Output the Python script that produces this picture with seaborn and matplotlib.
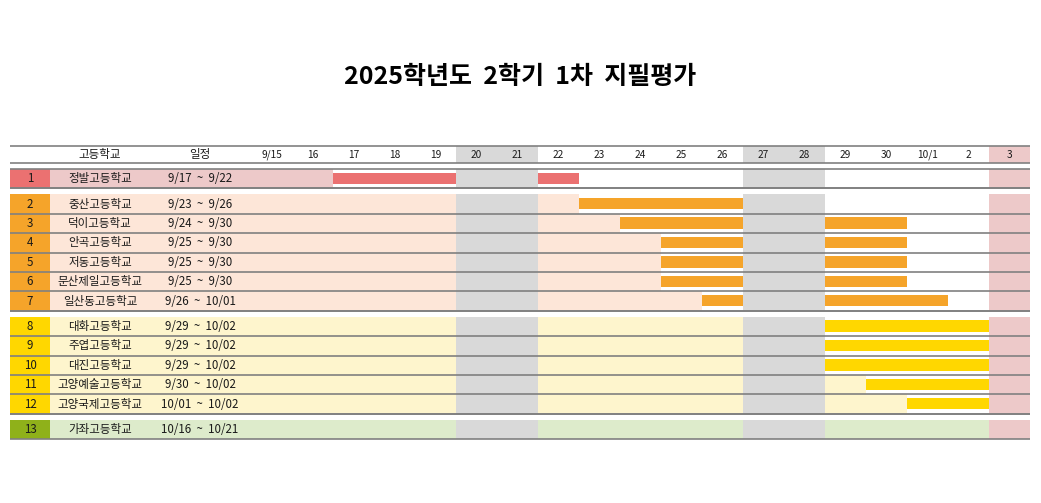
import numpy as np
import pandas as pd
import matplotlib
matplotlib.use("Agg")
import matplotlib.pyplot as plt
import seaborn as sns

# ---------------- data ----------------
title = "2025학년도  2학기  1차  지필평가"
row_numbers = list(range(1, 14))
schools = ["정발고등학교", "중산고등학교", "덕이고등학교", "안곡고등학교", "저동고등학교",
           "문산제일고등학교", "일산동고등학교", "대화고등학교", "주엽고등학교", "대진고등학교",
           "고양예술고등학교", "고양국제고등학교", "가좌고등학교"]
start_dates = ["2025-09-17", "2025-09-23", "2025-09-24", "2025-09-25", "2025-09-25",
               "2025-09-25", "2025-09-26", "2025-09-29", "2025-09-29", "2025-09-29",
               "2025-09-30", "2025-10-01", "2025-10-16"]
end_dates = ["2025-09-22", "2025-09-26", "2025-09-30", "2025-09-30", "2025-09-30",
             "2025-09-30", "2025-10-01", "2025-10-02", "2025-10-02", "2025-10-02",
             "2025-10-02", "2025-10-02", "2025-10-21"]
schedule_labels = ["9/17  ~  9/22", "9/23  ~  9/26", "9/24  ~  9/30", "9/25  ~  9/30",
                   "9/25  ~  9/30", "9/25  ~  9/30", "9/26  ~  10/01", "9/29  ~  10/02",
                   "9/29  ~  10/02", "9/29  ~  10/02", "9/30  ~  10/02", "10/01  ~  10/02",
                   "10/16  ~  10/21"]
groups = [0, 1, 1, 1, 1, 1, 1, 2, 2, 2, 2, 2, 3]
header_labels = ["고등학교", "일정"]
day_labels = ["9/15", "16", "17", "18", "19", "20", "21", "22", "23", "24", "25", "26",
              "27", "28", "29", "30", "10/1", "2", "3"]
calendar_start = "2025-09-15"
weekend_days = ["2025-09-20", "2025-09-21", "2025-09-27", "2025-09-28"]
holidays = ["2025-10-03"]

# ---------------- styles ----------------
group_dark = ["#EB7171", "#F5A42A", "#FFD700", "#8FB11A"]
group_light = ["#EDC9C9", "#FDE6D8", "#FEF5CD", "#DDEBCB"]
weekend_color = "#D9D9D9"
holiday_color = "#EDC9C9"
line_color = "#808080"
text_color = "#1A1A1A"
body_fs = 8.3

sns.set_theme(style="white")
plt.rcParams["font.family"] = ["Noto Sans CJK KR", "DejaVu Sans"]

W, H = 1041, 503
fig = plt.figure(figsize=(W / 100, H / 100), dpi=100)
ax = fig.add_axes([0, 0, 1, 1])

# x scale: one unit = one calendar day column (41 px), 0 = 9/15 column left edge
day_px, day0_px = 41.0, 251.0
ax.set_xlim((0 - day0_px) / day_px, (W - day0_px) / day_px)
ax.set_ylim(H, 0)
ax.axis("off")

n_days = len(day_labels)
x_left = (10 - day0_px) / day_px        # table left edge
x_name = (50 - day0_px) / day_px        # end of number column
x_name_c = (100 - day0_px) / day_px
x_date_c = (200 - day0_px) / day_px
x_num_c = (30 - day0_px) / day_px
x_right = n_days

base = pd.Timestamp(calendar_start)
day_idx = lambda d: (pd.Timestamp(d) - base).days
off_days = {day_idx(d) for d in weekend_days}
hol_days = {day_idx(d) for d in holidays}

# vertical layout (pixels)
header_top, header_h, gap, row_h = 146.0, 17.0, 6.0, 19.4
hlines = [header_top, header_top + header_h]
y = header_top + header_h + gap
row_top = []
for i, g in enumerate(groups):
    if i > 0 and g != groups[i - 1]:
        hlines.append(y)
        y += gap
    if i == 0:
        hlines.append(y)
    row_top.append(y)
    y += row_h
    hlines.append(y)

# header
hc = header_top + header_h / 2
for d in range(n_days):
    if d in off_days:
        ax.barh(hc, 1, left=d, height=header_h, color=weekend_color, lw=0)
    elif d in hol_days:
        ax.barh(hc, 1, left=d, height=header_h, color=holiday_color, lw=0)
    ax.text(d + 0.5, hc, day_labels[d], ha="center", va="center",
            fontsize=7.3, color=text_color, fontweight="medium")
ax.text(x_name_c, hc, header_labels[0], ha="center", va="center", fontsize=body_fs,
        color=text_color, fontweight="medium")
ax.text(x_date_c, hc, header_labels[1], ha="center", va="center", fontsize=body_fs,
        color=text_color, fontweight="medium")

# rows
for i in range(len(schools)):
    g = groups[i]
    top = row_top[i]
    yc = top + row_h / 2
    s, e = day_idx(start_dates[i]), day_idx(end_dates[i])
    # number cell
    ax.barh(yc, x_name - x_left, left=x_left, height=row_h, color=group_dark[g], lw=0)
    # light fill up to start column
    fill_end = min(s, n_days)
    ax.barh(yc, fill_end - x_name, left=x_name, height=row_h, color=group_light[g], lw=0)
    # weekend / holiday columns
    for d in range(n_days):
        if d in off_days:
            ax.barh(yc, 1, left=d, height=row_h, color=weekend_color, lw=0)
        elif d in hol_days:
            ax.barh(yc, 1, left=d, height=row_h, color=holiday_color, lw=0)
    # gantt bar segments (working days only)
    days = [d for d in range(s, e + 1) if 0 <= d < n_days and d not in off_days and d not in hol_days]
    segs = []
    for d in days:
        if segs and segs[-1][1] == d:
            segs[-1][1] = d + 1
        else:
            segs.append([d, d + 1])
    for a, b in segs:
        ax.barh(yc - 0.4, b - a, left=a, height=11.5, color=group_dark[g], lw=0)
    # texts
    for xc, txt in ((x_num_c, str(row_numbers[i])), (x_name_c, schools[i]),
                    (x_date_c, schedule_labels[i])):
        ax.text(xc, yc, txt, ha="center", va="center", fontsize=body_fs,
                color=text_color, fontweight="medium")

ax.hlines(hlines, x_left, x_right, color=line_color, lw=1.2)

ax.text((520 - day0_px) / day_px, 77, title, ha="center", va="center",
        fontsize=18, fontweight="bold", color="black")

fig.savefig("out.png", dpi=100)
